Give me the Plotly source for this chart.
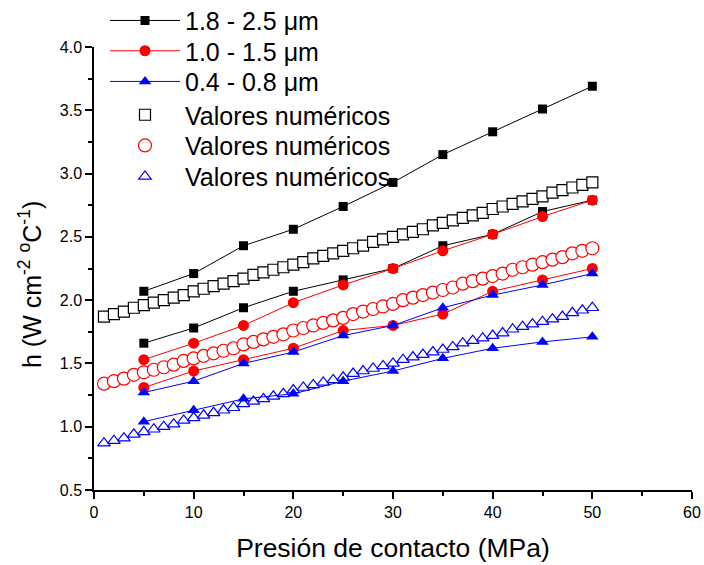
import plotly.graph_objects as go

# Experimental data (pressure in MPa)
x_exp = [5, 10, 15, 20, 25, 30, 35, 40, 45, 50]
h_18_25_a = [2.07, 2.21, 2.43, 2.56, 2.74, 2.93, 3.15, 3.33, 3.51, 3.69]
h_18_25_b = [1.66, 1.78, 1.94, 2.07, 2.16, 2.25, 2.43, 2.52, 2.70, 2.79]
h_10_15_a = [1.53, 1.66, 1.80, 1.98, 2.12, 2.25, 2.39, 2.52, 2.66, 2.79]
h_10_15_b = [1.31, 1.44, 1.53, 1.62, 1.76, 1.80, 1.89, 2.07, 2.16, 2.25]
h_04_08_a = [1.27, 1.36, 1.50, 1.59, 1.72, 1.80, 1.94, 2.04, 2.12, 2.21]
h_04_08_b = [1.04, 1.13, 1.22, 1.26, 1.36, 1.44, 1.54, 1.62, 1.67, 1.71]

# Numerical values
x_num = [1, 2, 3, 4, 5, 6, 7, 8, 9, 10, 11, 12, 13, 14, 15, 16, 17, 18, 19, 20,
         21, 22, 23, 24, 25, 26, 27, 28, 29, 30, 31, 32, 33, 34, 35, 36, 37, 38, 39, 40,
         41, 42, 43, 44, 45, 46, 47, 48, 49, 50]
num_sq = [1.87, 1.89, 1.91, 1.94, 1.96, 1.98, 2.00, 2.02, 2.04, 2.07,
          2.09, 2.11, 2.13, 2.15, 2.17, 2.20, 2.22, 2.24, 2.26, 2.28,
          2.30, 2.33, 2.35, 2.37, 2.39, 2.41, 2.43, 2.46, 2.48, 2.50,
          2.52, 2.54, 2.56, 2.59, 2.61, 2.63, 2.65, 2.67, 2.69, 2.72,
          2.74, 2.76, 2.78, 2.80, 2.82, 2.85, 2.87, 2.89, 2.91, 2.93]
num_ci = [1.34, 1.36, 1.38, 1.41, 1.43, 1.45, 1.47, 1.49, 1.52, 1.54,
          1.56, 1.58, 1.60, 1.62, 1.65, 1.67, 1.69, 1.71, 1.73, 1.76,
          1.78, 1.80, 1.82, 1.84, 1.86, 1.89, 1.91, 1.93, 1.95, 1.97,
          2.00, 2.02, 2.04, 2.06, 2.08, 2.10, 2.13, 2.15, 2.17, 2.19,
          2.21, 2.24, 2.26, 2.28, 2.30, 2.32, 2.34, 2.37, 2.39, 2.41]
num_tr = [0.87, 0.89, 0.91, 0.94, 0.96, 0.98, 1.00, 1.02, 1.05, 1.07,
          1.09, 1.11, 1.13, 1.15, 1.18, 1.20, 1.22, 1.24, 1.26, 1.29,
          1.31, 1.33, 1.35, 1.37, 1.39, 1.42, 1.44, 1.46, 1.48, 1.50,
          1.53, 1.55, 1.57, 1.59, 1.61, 1.63, 1.66, 1.68, 1.70, 1.72,
          1.74, 1.77, 1.79, 1.81, 1.83, 1.85, 1.87, 1.90, 1.92, 1.94]

labels = ["1.8 - 2.5 \u03bcm", "1.0 - 1.5 \u03bcm", "0.4 - 0.8 \u03bcm",
          "Valores num\u00e9ricos", "Valores num\u00e9ricos", "Valores num\u00e9ricos"]
legend_ids = ["legend", "legend2", "legend3", "legend4", "legend5", "legend6"]

fig = go.Figure()

# Numerical (open, white-filled) markers drawn first
num_specs = [(num_sq, "square", "black", 11, 3),
             (num_ci, "circle", "red", 13, 4),
             (num_tr, "triangle-up", "blue", 11, 5)]
for ys, sym, col, sz, k in num_specs:
    fig.add_trace(go.Scatter(
        x=x_num, y=ys, mode="markers", name=labels[k],
        marker=dict(symbol=sym, size=sz, color="white", line=dict(color=col, width=1.2)),
        legend=legend_ids[k]))

exp_specs = [(h_18_25_a, h_18_25_b, "square", "black", 9, 0),
             (h_10_15_a, h_10_15_b, "circle", "red", 11, 1),
             (h_04_08_a, h_04_08_b, "triangle-up", "blue", 11, 2)]
for ya, yb, sym, col, sz, k in exp_specs:
    for i, ys in enumerate((ya, yb)):
        fig.add_trace(go.Scatter(
            x=x_exp, y=ys, mode="lines+markers", name=labels[k],
            line=dict(color=col, width=1),
            marker=dict(symbol=sym, size=sz, color=col),
            showlegend=(i == 0), legend=legend_ids[k]))

axis_common = dict(showline=True, linecolor="black", linewidth=1.5,
                   ticks="outside", ticklen=7, tickwidth=1.5, tickcolor="black",
                   showgrid=False, zeroline=False, mirror=False)

# legend rows (pixel centre from top of page) -> paper coords
plot_top, plot_bottom = 47, 490
row_px = [20.7, 51.0, 81.7, 115.0, 145.7, 176.7]
legend_layout = {}
for lid, py in zip(legend_ids, row_px):
    legend_layout[lid] = dict(
        x=(105 - 94) / 598, y=(plot_bottom - py) / (plot_bottom - plot_top),
        xanchor="left", yanchor="middle",
        font=dict(size=25), bgcolor="rgba(0,0,0,0)", itemwidth=70)

fig.update_layout(
    width=704, height=565,
    margin=dict(l=94, r=12, t=47, b=75, autoexpand=False),
    plot_bgcolor="white", paper_bgcolor="white",
    font=dict(family="Liberation Sans, Arial, sans-serif", color="black"),
    showlegend=True,
    xaxis=dict(range=[0, 60], dtick=10, tick0=0,
               tickfont=dict(size=16),
               minor=dict(dtick=5, ticks="outside", ticklen=4, tickwidth=1.5, tickcolor="black"),
               title=dict(text="Presi\u00f3n de contacto (MPa)",
                          font=dict(size=26.5), standoff=18),
               **axis_common),
    yaxis=dict(range=[0.5, 4.0], dtick=0.5, tick0=0.5, tickformat=".1f",
               tickfont=dict(size=16),
               minor=dict(dtick=0.25, ticks="outside", ticklen=4, tickwidth=1.5, tickcolor="black"),
               **axis_common),
    annotations=[dict(text="h (W cm<sup>-2</sup> <sup>o</sup>C<sup>-1</sup>)",
                      textangle=-90, xref="paper", yref="paper",
                      x=(30 - 94) / 598, y=(plot_bottom - 285) / (plot_bottom - plot_top),
                      xanchor="center", yanchor="middle", showarrow=False,
                      font=dict(size=25))],
    **legend_layout,
)

fig.write_html("out.html")
